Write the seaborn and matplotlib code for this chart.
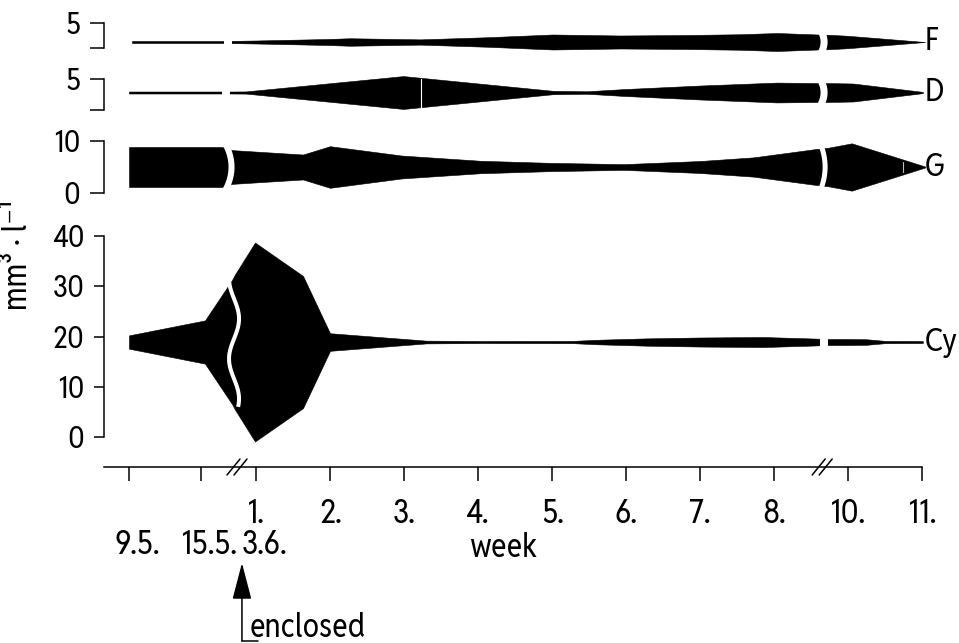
import numpy as np
import matplotlib.pyplot as plt
import seaborn as sns
from matplotlib import font_manager as fm
from matplotlib.textpath import TextPath
from matplotlib.transforms import blended_transform_factory as mezcla

# ==============================
# Datos
# ==============================
# posicion en el eje (semana 1 = 1, ..., semana 8 = 8, semana 10 = 9, semana 11 = 10)
semanas_pos = [1, 2, 3, 4, 5, 6, 7, 8, 9, 10]
semanas_lbl = ["1.", "2.", "3.", "4.", "5.", "6.", "7.", "8.", "10.", "11."]
fechas_pos = [-0.716, 0.257, 1.0]
fechas_lbl = ["9.5.", "15.5.", "3.6."]
encierro_pos = 0.81

# anchura total de cada "kite" (mm3 / l)
f_pos = [-0.676, 0.568, 0.689, 1.0, 1.97, 2.27, 3.22, 4.12, 5.01, 5.92, 6.82, 7.54, 8.04, 8.59, 8.73, 8.99, 10.04]
f_val = [0.4, 0.4, 0.45, 0.6, 1.2, 1.5, 1.05, 1.9, 3.0, 2.6, 2.8, 3.1, 3.6, 3.0, 2.9, 2.5, 0.0]

d_pos = [-0.716, 0.54, 0.662, 0.865, 2.99, 5.01, 5.47, 5.97, 7.0, 8.04, 8.59, 8.73, 9.07, 10.01]
d_val = [0.32, 0.32, 0.32, 0.35, 5.3, 0.55, 0.4, 1.1, 2.25, 3.2, 3.05, 3.05, 2.9, 0.2]

g_pos = [-0.716, 0.54, 0.676, 1.635, 2.0, 2.97, 4.03, 4.97, 5.97, 7.0, 7.72, 8.59, 8.73, 9.05, 10.04]
g_val = [7.7, 7.7, 6.5, 4.8, 8.0, 4.4, 2.4, 1.6, 1.1, 2.3, 3.7, 7.0, 7.4, 9.1, 0.2]

cy_pos = [-0.716, 0.31, 0.676, 0.716, 0.986, 1.635, 2.0, 3.3, 4.03, 5.28, 5.61, 5.97, 6.28, 7.0, 7.85,
          8.53, 8.62, 8.74, 9.0, 9.25, 9.5, 10.01]
cy_val = [2.65, 8.6, 24.7, 26.9, 39.6, 26.3, 3.5, 0.55, 0.4, 0.45, 0.9, 1.2, 1.45, 1.8, 2.0,
          1.4, 1.3, 1.2, 1.2, 1.1, 0.45, 0.4]

# ==============================
# Estilo
# ==============================
sns.set_theme(style="ticks")

# el original usa una letra estrecha tipo DIN: "10." mide ~33 px de ancho y 24 px de alto
OBJ = 33 / 24
mejor = None
for f in fm.fontManager.ttflist:
    nom = f.name.lower()
    if "sans" not in nom or "mono" in nom or "cjk" in nom or f.style != "normal":
        continue
    if f.weight not in (400, "normal", "regular"):
        continue
    try:
        ext = TextPath((0, 0), "10", size=100, prop=fm.FontProperties(fname=f.fname)).get_extents()
        ext2 = TextPath((0, 0), "10.", size=100, prop=fm.FontProperties(fname=f.fname)).get_extents()
    except Exception:
        continue
    if ext.height <= 0:
        continue
    ratio = ext2.width / ext.height
    if mejor is None or abs(ratio - OBJ) < abs(mejor[0] - OBJ):
        mejor = (ratio, f.name, f.stretch, ext.height / 100)

if mejor:
    plt.rcParams["font.family"] = [mejor[1], "DejaVu Sans"]
    plt.rcParams["font.stretch"] = mejor[2]
    alto_cifra = mejor[3]
else:
    plt.rcParams["font.family"] = ["DejaVu Sans"]
    alto_cifra = 0.73

FS = 24 / alto_cifra * 0.72      # cifras de 24 px
FS_Y = 22 / alto_cifra * 0.72    # cifras de 22 px

plt.rcParams["axes.linewidth"] = 1.1
plt.rcParams["xtick.major.width"] = 1.1
plt.rcParams["ytick.major.width"] = 1.1
plt.rcParams["axes.edgecolor"] = "black"
plt.rcParams["xtick.color"] = "black"
plt.rcParams["ytick.color"] = "black"
plt.rcParams["text.color"] = "black"

W, H = 959, 643
fig = plt.figure(figsize=(W / 100, H / 100), dpi=100)

X0, X1 = 104, 948
XL = (-1.054, 10.35)
PX = (XL[1] - XL[0]) / (X1 - X0)   # unidades de x por pixel


def caja(y0, y1):
    return fig.add_axes([X0 / W, 1 - y1 / H, (X1 - X0) / W, (y1 - y0) / H])


def corte(ax, xb, c, semi, lw_px, forma="|", curva_px=0):
    y = np.linspace(c - semi, c + semi, 80)
    t = (y - c) / semi
    if forma == ")":
        x = xb + curva_px * (1 - t ** 2) * PX
    elif forma == "~":
        s = (c + semi - y) / (2 * semi)
        x = xb - curva_px * np.cos(2 * np.pi * 1.6 * s) * PX
    else:
        x = np.full_like(y, xb)
    ax.plot(x, y, color="white", lw=lw_px * 0.72, solid_capstyle="butt", clip_on=False, zorder=3)


# (nombre, x, anchura, centro, caja en px, ylim, ticks, etiquetas)
paneles = [
    ("F", f_pos, f_val, 1.2, (23, 48), 5, [0, 5], ["", "5"]),
    ("D", d_pos, d_val, 2.82, (79, 110), 5, [0, 5], ["", "5"]),
    ("G", g_pos, g_val, 5.0, (141, 193), 10, [0, 10], ["0", "10"]),
    ("Cy", cy_pos, cy_val, 18.9, (236, 437), 40, [0, 10, 20, 30, 40], ["0", "10", "20", "30", "40"]),
]

ejes = {}
for nombre, xs, ws, centro, (y0, y1), ytop, yt, ylb in paneles:
    ax = caja(y0, y1)
    ejes[nombre] = ax
    xs = np.array(xs)
    ws = np.array(ws)
    ax.fill_between(xs, centro - ws / 2, centro + ws / 2, color="black", lw=0.4,
                    edgecolor="black", clip_on=False, zorder=2)
    ax.set_xlim(*XL)
    ax.set_ylim(0, ytop)
    ax.set_yticks(yt)
    ax.set_yticklabels(ylb, fontsize=FS_Y)
    largo = 10 if nombre == "Cy" else 14
    ax.tick_params(axis="y", direction="out", length=largo * 0.72, pad=7)
    ax.patch.set_alpha(0)
    sns.despine(ax=ax, top=True, right=True, bottom=(nombre != "Cy"))
    if nombre != "Cy":
        ax.tick_params(axis="x", bottom=False, labelbottom=False)
    ax.text(10.03, centro, nombre, fontsize=FS * 0.96, ha="left", va="center", clip_on=False)

# roturas en los kites
corte(ejes["F"], 0.622, 1.2, 0.6, 8)
corte(ejes["D"], 0.60, 2.82, 0.5, 8)
corte(ejes["G"], 0.588, 5.0, 4.4, 6, ")", 6)
corte(ejes["Cy"], 0.703, 18.75, 12.75, 4, "~", 5)
corte(ejes["F"], 8.635, 1.2, 2.2, 7, ")", 3)
corte(ejes["D"], 8.635, 2.82, 1.9, 7, ")", 3)
corte(ejes["G"], 8.622, 5.0, 4.6, 5, ")", 5)
corte(ejes["Cy"], 8.68, 18.9, 1.2, 8)
# finas lineas blancas del dibujo original
ejes["D"].plot([3.23, 3.23], [2.82 - 2.5, 2.82 + 2.5], color="white", lw=0.8, zorder=3)
ejes["G"].plot([9.74, 9.74], [5.0 - 0.9, 5.0 + 0.9], color="0.75", lw=0.8, zorder=3)

# ==============================
# Eje x (semanas)
# ==============================
ax = ejes["Cy"]
ax.spines["bottom"].set_position(("outward", 30 * 0.72))
ax.spines["bottom"].set_bounds(XL[0], 10)
ax.set_xticks(fechas_pos[:2] + semanas_pos)
ax.set_xticklabels(["", ""] + semanas_lbl, fontsize=FS)
ax.tick_params(axis="x", direction="out", length=14 * 0.72, pad=12)

# marcas de rotura "//"
tr = mezcla(ax.transData, fig.transFigure)
y_eje = (H - 467) / H
for xb in [0.743, 8.65]:
    for dx in [-3.5, 3.5]:
        xc = xb + dx * PX
        ax.plot([xc - 6.5 * PX, xc + 6.5 * PX], [y_eje - 8 / H, y_eje + 8 / H],
                color="black", lw=1.1, transform=tr, clip_on=False)

for p, lbl in zip(fechas_pos, fechas_lbl):
    ax.text(p + 8 * PX, (H - 545) / H, lbl, fontsize=FS, ha="center", va="center", transform=tr)
ax.text(4.34, (H - 548) / H, "week", fontsize=FS, ha="center", va="center", transform=tr)

# flecha "enclosed"
ax.annotate("", xy=(encierro_pos, (H - 563) / H), xycoords=tr,
            xytext=(encierro_pos, (H - 641) / H), textcoords=tr,
            arrowprops=dict(arrowstyle="-|>,head_length=1.15,head_width=0.3", color="black",
                            lw=1.1, shrinkA=0, shrinkB=0, mutation_scale=20))
ax.plot([encierro_pos, encierro_pos + 16 * PX], [(H - 641) / H] * 2, color="black", lw=1.1,
        transform=tr, clip_on=False)
ax.text(encierro_pos + 8 * PX, (H - 637) / H, "enclosed", fontsize=FS, ha="left",
        va="baseline", transform=tr)

# etiqueta del eje y
fig.text(18 / W, 1 - 255 / H, "mm³ · l⁻¹", fontsize=FS, rotation=90, ha="center", va="center")

plt.savefig("out.png", dpi=100)
plt.close()
